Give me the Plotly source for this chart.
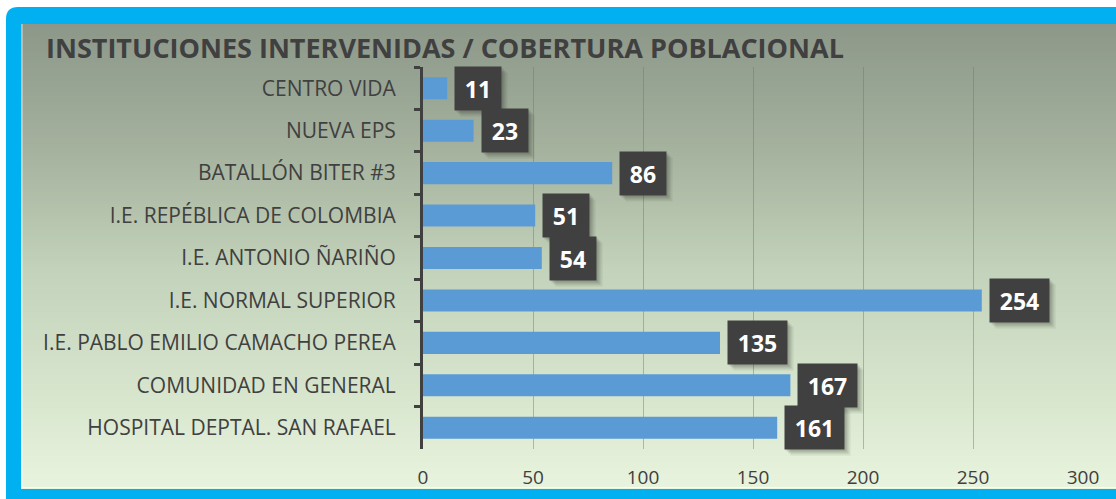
import plotly.graph_objects as go

categories = ["CENTRO VIDA", "NUEVA EPS", "BATALLÓN BITER #3", "I.E. REPÉBLICA DE COLOMBIA",
              "I.E. ANTONIO ÑARIÑO", "I.E. NORMAL SUPERIOR", "I.E. PABLO EMILIO CAMACHO PEREA",
              "COMUNIDAD EN GENERAL", "HOSPITAL DEPTAL. SAN RAFAEL"]
values = [11, 23, 86, 51, 54, 254, 135, 167, 161]
x_ticks = [0, 50, 100, 150, 200, 250, 300]
title = "INSTITUCIONES INTERVENIDAS / COBERTURA POBLACIONAL"

W, H = 1116, 499
L, R, T, B = 423, 1083, 67, 449


def px(x):
    return (x - L) / (R - L)


def py(y):
    return (B - y) / (B - T)


def lerp(c1, c2, t):
    return tuple(round(a + (b - a) * t) for a, b in zip(c1, c2))


shapes = []
# cyan frame with rounded corners
x0, y0, x1, y1, r = 6, 7, W + 20, H + 20, 12
path = (f"M {px(x0)} {py(y0 + r)} Q {px(x0)} {py(y0)} {px(x0 + r)} {py(y0)} "
        f"L {px(x1)} {py(y0)} L {px(x1)} {py(y1)} L {px(x0)} {py(y1)} Z")
shapes.append(dict(type="path", xref="paper", yref="paper", path=path,
                   fillcolor="#00b0f0", line=dict(width=0), layer="below"))
# gradient background of inner area
stops = [(24, (0x8c, 0x97, 0x89)), (150, (0xa5, 0xb2, 0x9e)), (270, (0xc3, 0xd2, 0xba)),
         (489, (0xe8, 0xf4, 0xdd))]
ytop, ybot, step = 24, 489, 3
yy = ytop
while yy < ybot:
    mid = yy + step / 2
    for (ya, ca), (yb, cb) in zip(stops[:-1], stops[1:]):
        if ya <= mid <= yb:
            c = lerp(ca, cb, (mid - ya) / (yb - ya))
            break
    shapes.append(dict(type="rect", xref="paper", yref="paper", x0=px(21), x1=px(W + 20),
                       y0=py(min(yy + step + 0.5, ybot)), y1=py(yy),
                       fillcolor="rgb(%d,%d,%d)" % c, line=dict(width=0), layer="below"))
    yy += step
# thin white inner edge
shapes.append(dict(type="path", xref="paper", yref="paper",
                   path=f"M {px(22)} {py(24)} L {px(22)} {py(487.5)} L {px(W + 20)} {py(487.5)}",
                   line=dict(color="rgba(255,255,255,0.7)", width=1), layer="below"))

fig = go.Figure(go.Bar(
    x=values, y=categories, orientation="h",
    marker=dict(color="#5b9bd5", line=dict(width=0)),
    width=0.52, hoverinfo="x+y",
))

annotations = [dict(xref="paper", yref="paper", x=px(44), y=py(47), xanchor="left",
                    yanchor="middle", showarrow=False, text=f"<b>{title}</b>",
                    font=dict(family="Open Sans", size=27, color="#404040"))]
for c, v in zip(categories, values):
    w = 44 if len(str(v)) < 3 else 57
    for k, a in ((6, 0.08), (4, 0.12), (2, 0.14)):
        annotations.append(dict(x=v, y=c, xref="x", yref="y", xanchor="left", yanchor="middle",
                                xshift=7 + k, yshift=-k, showarrow=False, text=" ",
                                width=w, height=41, bgcolor=f"rgba(30,35,25,{a})"))
    annotations.append(dict(x=v, y=c, xref="x", yref="y", xanchor="left", yanchor="middle",
                            xshift=7, showarrow=False, text=f"<b>{v}</b>",
                            width=w, height=41, bgcolor="#404040",
                            font=dict(family="Open Sans", size=23, color="white")))

fig.update_layout(
    width=W, height=H,
    margin=dict(l=L, r=W - R, t=T, b=H - B, pad=0, autoexpand=False),
    paper_bgcolor="white", plot_bgcolor="rgba(0,0,0,0)",
    showlegend=False, shapes=shapes, annotations=annotations,
    font=dict(family="Open Sans", color="#404040"),
    bargap=0.48,
)
fig.update_xaxes(range=[0, 300], tickvals=x_ticks, showgrid=True, automargin=False,
                 gridcolor="rgba(110,118,108,0.45)", gridwidth=1.3, zeroline=False,
                 showline=False, ticks="", tickfont=dict(size=19, color="#404040"),
                 ticklabelstandoff=15, fixedrange=True)
fig.update_yaxes(range=[len(categories) - 0.5, -0.5], type="category",
                 showline=True, linecolor="#404040", linewidth=3,
                 ticks="outside", tickson="boundaries", ticklen=6, tickwidth=3, automargin=False,
                 tickcolor="#404040", tickfont=dict(size=21, color="#404040"),
                 ticklabelstandoff=20, showgrid=False, fixedrange=True)

fig.write_html("out.html", config={"displayModeBar": False},
               post_script="document.body.style.margin='0';document.body.style.overflow='hidden';")
